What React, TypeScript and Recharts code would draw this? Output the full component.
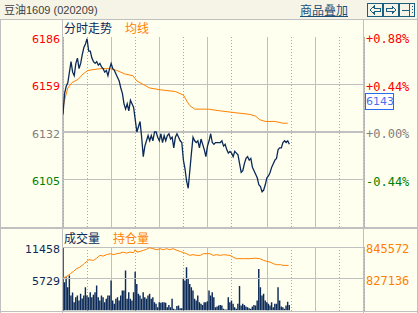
import { ComposedChart, Line, Bar, XAxis, YAxis, ReferenceLine, CartesianGrid } from "recharts";

// minutes of one trading day (night + day sessions)
const SESSION_MINUTES = 375;
const STEP = 2;
const BASE_PRICE = 6132;

const priceTicks = [6186, 6159, 6132, 6105];
const volumeTicks = [11458, 5729];
const oiTicks = [845572, 827136];
const solidGridMinutes = [60, 120, 180, 255, 315];
const dottedGridMinutes = [30, 90, 150, 210, 285, 345];

// last price every 2 minutes
const price = [
  6142, 6154, 6158, 6160, 6166, 6172, 6166, 6164, 6171, 6174,
  6168, 6171, 6176, 6180, 6182, 6185, 6178, 6178, 6174, 6172,
  6171, 6172, 6170, 6171, 6169, 6168, 6166, 6167, 6164, 6168,
  6171, 6168, 6167, 6165, 6163, 6161, 6157, 6154, 6148, 6145,
  6148, 6144, 6150, 6148, 6146, 6139, 6132, 6135, 6138, 6129,
  6118, 6124, 6127, 6130, 6127, 6130, 6127, 6132, 6132, 6129,
  6127, 6131, 6126, 6130, 6127, 6130, 6131, 6128, 6129, 6123,
  6129, 6131, 6129, 6127, 6126, 6116, 6111, 6104, 6100, 6110,
  6120, 6129, 6127, 6126, 6127, 6123, 6128, 6125, 6122, 6118,
  6124, 6127, 6131, 6126, 6125, 6126, 6126, 6126, 6126, 6127,
  6124, 6125, 6122, 6120, 6121, 6120, 6118, 6121, 6120, 6119,
  6114, 6109, 6110, 6114, 6117, 6118, 6116, 6117, 6112, 6110,
  6108, 6106, 6102, 6101, 6098, 6099, 6102, 6106, 6107, 6109,
  6112, 6114, 6116, 6117, 6122, 6123, 6123, 6126, 6127, 6126,
  6127, 6125,
];

// traded volume every 2 minutes
const volume = [
  11458, 5100, 6000, 4200, 6300, 2700, 3250, 1500, 2400, 2700,
  1800, 3000, 2150, 2700, 4200, 2700, 2400, 3300, 2400, 2850,
  3300, 4500, 2400, 1800, 2700, 2400, 1500, 2100, 2700, 2700,
  5400, 1800, 1200, 2100, 2400, 1800, 2700, 3600, 3600, 7200,
  2100, 3300, 2100, 1800, 3300, 7000, 4800, 3000, 2700, 2100,
  3300, 2400, 2100, 2700, 3000, 2100, 2400, 1500, 1200, 600,
  1500, 1400, 1500, 1500, 1400, 600, 1000, 600, 2100, 300,
  200, 800, 900, 400, 400, 5850, 5400, 7800, 5700, 4800,
  4200, 3600, 2100, 1800, 2700, 1500, 1200, 1000, 1500, 1500,
  1650, 3600, 2700, 3300, 2400, 600, 700, 900, 1000, 900,
  300, 200, 200, 2400, 1500, 1800, 1200, 600, 300, 1200,
  4400, 900, 1200, 1000, 700, 600, 400, 300, 700, 1000,
  900, 1800, 7500, 4200, 2700, 3000, 1800, 1500, 1200, 900,
  1500, 600, 1200, 1200, 4200, 1800, 700, 600, 300, 900,
  1600, 1000,
];

// average price line
const avgMinutes = [0, 3, 6, 11, 19, 25, 31, 46, 59, 67, 77, 87, 92, 100, 108, 121, 140, 150, 155, 158, 164, 177, 181, 196, 214, 233, 240, 245, 252, 264, 274, 280];
const avgPrice = [6146, 6152, 6157, 6160, 6162, 6165, 6167, 6168, 6168, 6167, 6165, 6164, 6161, 6159, 6157, 6156, 6155, 6153, 6149, 6147, 6145, 6145, 6145, 6144, 6143, 6142, 6141, 6139, 6138, 6138, 6137, 6137];

// open interest line
const oiMinutes = [0, 5, 9, 13, 17, 21, 25, 27, 30, 32, 38, 42, 46, 50, 54, 59, 63, 67, 71, 75, 79, 83, 88, 90, 92, 96, 100, 104, 108, 112, 117, 121, 125, 129, 133, 137, 142, 146, 150, 154, 158, 162, 167, 171, 175, 183, 187, 191, 196, 200, 208, 212, 216, 225, 233, 239, 245, 250, 254, 258, 262, 266, 271, 274, 279, 281];
const openInterest = [827500, 828650, 830000, 831400, 833000, 833900, 835300, 836200, 837200, 838200, 837800, 839100, 840700, 840300, 841100, 841700, 841100, 841700, 842000, 842600, 842000, 842600, 842300, 844000, 842600, 843000, 843600, 844200, 845200, 844600, 844000, 844600, 844000, 844600, 844000, 844600, 843600, 843000, 842300, 841700, 840700, 841100, 840700, 840700, 841700, 841700, 840700, 841100, 840700, 841100, 840700, 839700, 838800, 838800, 838800, 839100, 838800, 837800, 837200, 836800, 835900, 835300, 835300, 834900, 834900, 834900];

const NAVY = "#0c2a58";
const ORANGE = "#ff8000";
const GRID = "#c0c0c0";
const DOT_GRID = "#a8a8a8";
const BG = "#fffff0";
const LABEL_FONT = "'DejaVu Sans', Verdana, sans-serif";
const MONO_FONT = "'DejaVu Sans Mono', monospace";
const CJK_FONT = "'Noto Sans CJK SC', sans-serif";

const rows = price.map((p, i) => ({ t: i * STEP, price: p, vol: volume[i] }));
const avgData = avgMinutes.map((t, i) => ({ t, avg: avgPrice[i] }));
const oiData = oiMinutes.map((t, i) => ({ t, oi: openInterest[i] }));

const priceColor = (v: number) => (v > BASE_PRICE ? "#ff0000" : v < BASE_PRICE ? "#008000" : "#808080");
const formatPct = (v: number) => {
  const pct = ((v - BASE_PRICE) / BASE_PRICE) * 100;
  return `${pct >= 0 ? "+" : "-"}${Math.abs(pct).toFixed(2)}%`;
};

function Tick(props: any) {
  const { x, y, payload, fill, anchor, font, format } = props;
  const value = payload.value;
  return (
    <text
      x={x}
      y={y + 2}
      dy="0.35em"
      textAnchor={anchor}
      fill={typeof fill === "function" ? fill(value) : fill}
      fontSize={font === MONO_FONT ? 12 : 11}
      fontFamily={font}
    >
      {format ? format(value) : value}
    </text>
  );
}

const hline = (top: number, left: number, width: number, h = 1) => (
  <div style={{ position: "absolute", top, left, width, height: h, background: GRID }} />
);
const vline = (left: number, top: number, height: number) => (
  <div style={{ position: "absolute", top, left, width: 1, height, background: GRID }} />
);

// invisible time axis; its ticks only drive the vertical grid
const timeAxis = (id: string, ticks: number[]) => (
  <XAxis
    xAxisId={id}
    dataKey="t"
    type="number"
    domain={[0, SESSION_MINUTES]}
    ticks={ticks}
    interval={0}
    allowDataOverflow
    height={0}
    tick={() => <g />}
    tickLine={false}
    axisLine={false}
  />
);

export default function App() {
  return (
    <div style={{ position: "fixed", left: 0, top: 0, width: 418, height: 313, background: BG, overflow: "hidden" }}>
      <style>{`.recharts-cartesian-grid line,.recharts-reference-line line{shape-rendering:crispEdges}`}</style>
      {/* title bar */}
      <div style={{ position: "absolute", left: 0, top: 0, width: 418, height: 19, background: "#f5f4e6" }} />
      <div style={{ position: "absolute", left: 4, top: 2, fontSize: 11, color: "#404040", fontFamily: `'Liberation Sans', ${CJK_FONT}`, lineHeight: "16px" }}>
        豆油1609 (020209)
      </div>
      <div style={{ position: "absolute", left: 300, top: 1, fontSize: 12, color: "#1a4f7a", fontFamily: CJK_FONT, textDecoration: "underline", lineHeight: "17px" }}>
        商品叠加
      </div>
      <svg style={{ position: "absolute", left: 367, top: 3 }} width={49} height={15}>
        <g fill="none" stroke="#1a5f80" strokeWidth={1} shapeRendering="crispEdges">
          <rect x={0.5} y={0.5} width={15} height={13} />
          <rect x={16.5} y={0.5} width={15} height={13} />
          <rect x={32.5} y={0.5} width={15} height={13} />
          <path d="M3 7 L7 3.5 L7 5.5 L13 5.5 L13 8.5 L7 8.5 L7 10.5 Z" />
          <path d="M29 7 L25 3.5 L25 5.5 L19 5.5 L19 8.5 L25 8.5 L25 10.5 Z" />
          <path d="M35 7.5 L42 7.5 M42.5 1 L42.5 14" />
          <path d="M45 3.5 L46 3.5 M45 6.5 L46 6.5 M45 9.5 L46 9.5" />
        </g>
      </svg>

      {/* frame lines */}
      {hline(19, 0, 418)}
      {hline(227, 0, 418, 2)}
      {hline(311, 0, 418)}
      {vline(0, 19, 294)}
      {vline(417, 0, 313)}
      {vline(62, 19, 294)}
      {vline(363, 19, 294)}

      {/* panel headers */}
      <div style={{ position: "absolute", left: 64, top: 19, fontSize: 12, fontFamily: CJK_FONT, lineHeight: "18px", whiteSpace: "nowrap" }}>
        <span style={{ color: NAVY }}>分时走势</span>
        <span style={{ color: ORANGE, marginLeft: 13 }}>均线</span>
      </div>
      <div style={{ position: "absolute", left: 64, top: 229, fontSize: 12, fontFamily: CJK_FONT, lineHeight: "17px", whiteSpace: "nowrap" }}>
        <span style={{ color: NAVY }}>成交量</span>
        <span style={{ color: ORANGE, marginLeft: 13 }}>持仓量</span>
      </div>

      {/* price panel */}
      <div style={{ position: "absolute", left: 0, top: 0 }}>
        <ComposedChart width={418} height={228} data={rows} margin={{ top: 37, right: 0, bottom: 1, left: 0 }}>
          {timeAxis("main", solidGridMinutes)}
          {timeAxis("mainDot", dottedGridMinutes)}
          <YAxis
            yAxisId="left"
            width={63}
            domain={[6078, 6186]}
            ticks={priceTicks}
            interval={0}
            allowDataOverflow
            axisLine={false}
            tickLine={false}
            tickSize={0}
            tickMargin={3}
            tick={(p: any) => <Tick {...p} fill={priceColor} anchor="end" font={LABEL_FONT} />}
          />
          <YAxis
            yAxisId="right"
            orientation="right"
            width={54}
            domain={[6078, 6186]}
            ticks={priceTicks}
            interval={0}
            allowDataOverflow
            axisLine={false}
            tickLine={false}
            tickSize={0}
            tickMargin={2}
            tick={(p: any) => <Tick {...p} fill={priceColor} anchor="start" font={MONO_FONT} format={formatPct} />}
          />
          <CartesianGrid xAxisId="main" yAxisId="left" horizontal={false} vertical stroke={GRID} />
          <CartesianGrid xAxisId="mainDot" yAxisId="left" horizontal={false} vertical stroke={DOT_GRID} strokeDasharray="1 2" />
          <ReferenceLine xAxisId="main" yAxisId="left" y={6159} stroke={GRID} />
          <ReferenceLine xAxisId="main" yAxisId="left" y={6105} stroke={GRID} />
          <ReferenceLine xAxisId="main" yAxisId="left" y={6132} stroke={GRID} strokeWidth={2} />
          <Line xAxisId="main" yAxisId="left" data={avgData} dataKey="avg" type="linear" stroke={ORANGE} strokeWidth={1} dot={false} isAnimationActive={false} />
          <Line xAxisId="mainDot" yAxisId="right" dataKey="price" type="linear" stroke={NAVY} strokeWidth={1.3} dot={false} isAnimationActive={false} />
        </ComposedChart>
      </div>

      {/* volume / open interest panel */}
      <div style={{ position: "absolute", left: 0, top: 0 }}>
        <ComposedChart width={418} height={313} data={rows} margin={{ top: 247, right: 0, bottom: 2.5, left: 0 }}>
          {timeAxis("vol", solidGridMinutes)}
          {timeAxis("volDot", dottedGridMinutes)}
          <YAxis
            yAxisId="vol"
            width={63}
            domain={[0, 11458]}
            ticks={volumeTicks}
            interval={0}
            allowDataOverflow
            axisLine={false}
            tickLine={false}
            tickSize={0}
            tickMargin={3}
            tick={(p: any) => <Tick {...p} fill={NAVY} anchor="end" font={LABEL_FONT} />}
          />
          <YAxis
            yAxisId="oi"
            orientation="right"
            width={54}
            domain={[808700, 845572]}
            ticks={oiTicks}
            interval={0}
            allowDataOverflow
            axisLine={false}
            tickLine={false}
            tickSize={0}
            tickMargin={2}
            tick={(p: any) => <Tick {...p} fill={ORANGE} anchor="start" font={MONO_FONT} />}
          />
          <CartesianGrid xAxisId="vol" yAxisId="vol" horizontal={false} vertical stroke={GRID} />
          <CartesianGrid xAxisId="volDot" yAxisId="vol" horizontal={false} vertical stroke={DOT_GRID} strokeDasharray="1 2" />
          <ReferenceLine xAxisId="vol" yAxisId="vol" y={11458} stroke={GRID} />
          <ReferenceLine xAxisId="vol" yAxisId="vol" y={5729} stroke={GRID} />
          <Bar xAxisId="vol" yAxisId="vol" dataKey="vol" fill={NAVY} barSize={2} isAnimationActive={false} />
          <Line xAxisId="volDot" yAxisId="oi" data={oiData} dataKey="oi" type="linear" stroke={ORANGE} strokeWidth={1} dot={false} isAnimationActive={false} />
        </ComposedChart>
      </div>

      {/* last price tag */}
      <div
        style={{
          position: "absolute",
          left: 365,
          top: 93,
          width: 27,
          height: 15,
          border: "1px solid #2a6af0",
          background: "#ffffff",
          color: "#4a6ef0",
          fontSize: 11,
          fontFamily: LABEL_FONT,
          lineHeight: "15px",
          textAlign: "center",
        }}
      >
        6143
      </div>
    </div>
  );
}
